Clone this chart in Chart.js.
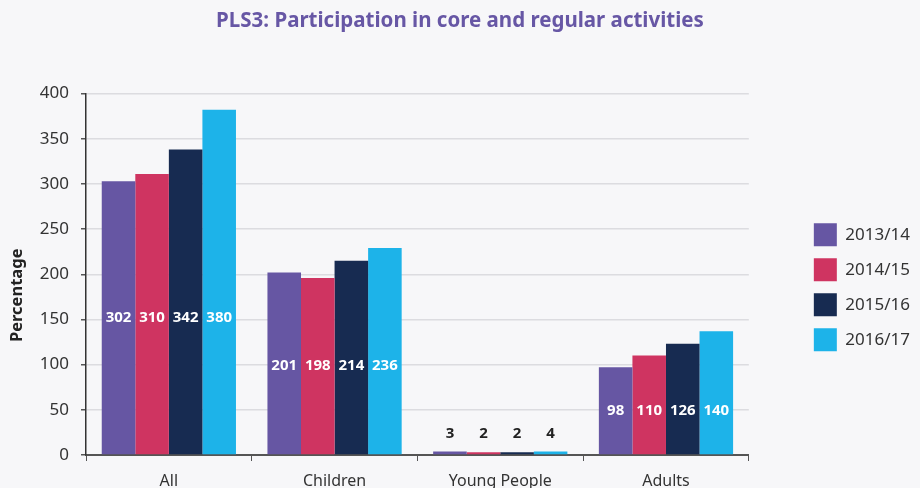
<!DOCTYPE html>
<html>
<head>
<meta charset="utf-8">
<script src="https://cdn.jsdelivr.net/npm/chart.js@4"></script>
<style>
  html, body { margin: 0; padding: 0; background: #f7f7f9; overflow: hidden; }
  #wrap { width: 920px; height: 500px; }
</style>
</head>
<body>
<div id="wrap"><canvas id="chart" width="920" height="500"></canvas></div>
<script>
// Chart data
const categories = ['All', 'Children', 'Young People', 'Adults'];
const seasons = ['2013/14', '2014/15', '2015/16', '2016/17'];

// bar heights as drawn
const values1314 = [303, 202, 4, 97];
const values1415 = [311, 196, 3, 110];
const values1516 = [338, 215, 3, 123];
const values1617 = [382, 229, 4, 137];

// numbers printed on the bars
const labels1314 = ['302', '201', '3', '98'];
const labels1415 = ['310', '198', '2', '110'];
const labels1516 = ['342', '214', '2', '126'];
const labels1617 = ['380', '236', '4', '140'];

const yTicks = [0, 50, 100, 150, 200, 250, 300, 350, 400];

const colors = ['#6656a3', '#cf3461', '#172b51', '#1db3e9'];
const allValues = [values1314, values1415, values1516, values1617];
const allLabels = [labels1314, labels1415, labels1516, labels1617];

const fontFamily = "'Noto Sans', 'Open Sans', sans-serif";

// Write the numbers on the bars. All numbers of a group share one line:
// the middle of the shortest bar, or just above the group if bars are tiny
const barLabels = {
  id: 'barLabels',
  afterDatasetsDraw(chart) {
    const ctx = chart.ctx;
    const metas = chart.data.datasets.map((ds, i) => chart.getDatasetMeta(i));
    ctx.save();
    ctx.font = `bold 15px ${fontFamily}`;
    ctx.textAlign = 'center';
    ctx.textBaseline = 'middle';
    categories.forEach((cat, j) => {
      const bars = metas.map(m => m.data[j]);
      const base = bars[0].base;
      const minH = Math.min(...bars.map(b => b.base - b.y));
      const minTop = Math.min(...bars.map(b => b.y));
      const inside = minH > 30;
      const y = inside ? base - minH / 2 : minTop - 18;
      bars.forEach((bar, i) => {
        ctx.fillStyle = inside ? '#ffffff' : '#222222';
        ctx.fillText(chart.data.datasets[i].valueLabels[j], bar.x, y);
      });
    });
    ctx.restore();
  }
};

// y axis title, sits a bit below the middle of the axis in the original
const yTitle = {
  id: 'yTitle',
  afterDraw(chart) {
    const ctx = chart.ctx;
    const area = chart.chartArea;
    ctx.save();
    ctx.translate(17, (area.top + area.bottom) / 2 + 21);
    ctx.rotate(-Math.PI / 2);
    ctx.font = `bold 16.5px ${fontFamily}`;
    ctx.fillStyle = '#222222';
    ctx.textAlign = 'center';
    ctx.textBaseline = 'middle';
    ctx.fillText('Percentage', 0, 0);
    ctx.restore();
  }
};

// nudge the legend down a little so it sits where the original one is
const legendShift = {
  id: 'legendShift',
  afterLayout(chart) {
    chart.legend.top += 13;
    chart.legend.bottom += 13;
  }
};

const ctx = document.getElementById('chart').getContext('2d');
new Chart(ctx, {
  type: 'bar',
  data: {
    labels: categories,
    datasets: seasons.map((s, i) => ({
      label: s,
      data: allValues[i],
      valueLabels: allLabels[i],
      backgroundColor: colors[i],
      barPercentage: 1.0,
      categoryPercentage: 0.81
    }))
  },
  options: {
    responsive: false,
    animation: false,
    layout: { padding: 0 },
    plugins: {
      title: {
        display: true,
        text: 'PLS3: Participation in core and regular activities',
        color: '#6757a5',
        font: { family: fontFamily, size: 20.5, weight: 'bold' },
        padding: { top: 9, bottom: 60 }
      },
      legend: {
        position: 'right',
        fullSize: false,
        labels: {
          boxWidth: 23,
          boxHeight: 23,
          padding: 12,
          color: '#333333',
          font: { family: fontFamily, size: 17 }
        }
      },
      tooltip: { enabled: false }
    },
    scales: {
      x: {
        grid: {
          display: true,
          drawOnChartArea: false,
          offset: true,
          tickLength: 6,
          tickColor: '#555555'
        },
        border: { display: true, color: '#555555', width: 2 },
        ticks: {
          color: '#333333',
          padding: 11,
          font: { family: fontFamily, size: 16 }
        },
        afterFit(s) { s.height = 45; }
      },
      y: {
        min: 0,
        max: 400,
        afterBuildTicks(s) { s.ticks = yTicks.map(v => ({ value: v })); },
        grid: {
          color: '#dcdce0',
          lineWidth: 1.5,
          tickLength: 5,
          tickColor: '#555555'
        },
        border: { display: true, color: '#333333', width: 1.5 },
        ticks: {
          color: '#333333',
          padding: 12,
          font: { family: fontFamily, size: 17 }
        },
        afterFit(s) { s.width = 86; }
      },
      gap: {
        type: 'linear',
        position: 'right',
        display: true,
        grid: { display: false, drawTicks: false },
        border: { display: false },
        ticks: { display: false },
        afterFit(s) { s.width = 53; }
      }
    }
  },
  plugins: [barLabels, yTitle, legendShift]
});
</script>
</body>
</html>
